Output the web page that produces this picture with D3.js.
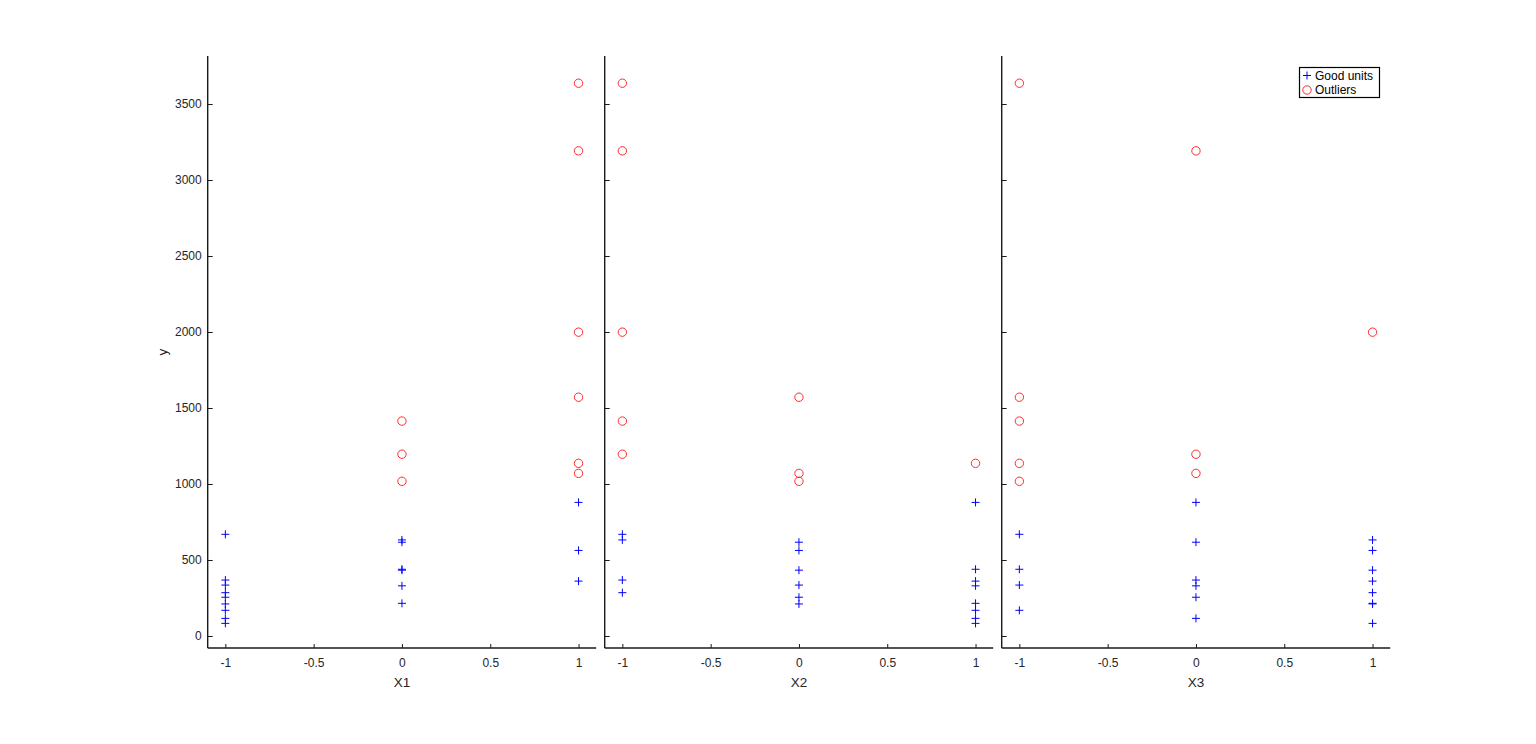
<!DOCTYPE html>
<html>
<head>
<meta charset="utf-8">
<script src="https://cdn.jsdelivr.net/npm/d3@7"></script>
<style>
  html, body { margin: 0; padding: 0; background: #fff; }
  svg { display: block; font-family: "Liberation Sans", Arial, Helvetica, sans-serif; }
</style>
</head>
<body>
<svg id="chart" width="1536" height="744"></svg>
<script>
// ---- data (3^3 factorial runs) ----
const X1 = [-1,-1,-1,-1,-1,-1,-1,-1,-1, 0,0,0,0,0,0,0,0,0, 1,1,1,1,1,1,1,1,1];
const X2 = [-1,-1,-1, 0,0,0, 1,1,1, -1,-1,-1, 0,0,0, 1,1,1, -1,-1,-1, 0,0,0, 1,1,1];
const X3 = [-1,0,1, -1,0,1, -1,0,1, -1,0,1, -1,0,1, -1,0,1, -1,0,1, -1,0,1, -1,0,1];
const Y  = [669,368,285, 335,255,211, 169,116,83,
            1414,1196,632, 1018,617,433, 439,330,215,
            3637,3192,1999, 1571,1070,563, 1136,879,361];
const isOutlier = [0,0,0,0,0,0,0,0,0, 1,1,0,1,0,0,0,0,0, 1,1,1,1,1,0,1,0,0];
const factorNames = ["X1","X2","X3"];
const xTicks = [-1,-0.5,0,0.5,1];
const yTicks = [0,500,1000,1500,2000,2500,3000,3500];
const legendLabels = ["Good units","Outliers"];

(function () {
const factors = [X1, X2, X3];
const svg = d3.select("#chart");

const panelLeft = 207.7, panelStep = 397, panelW = 388.5;
const yTop = 56, yBottom = 648;
const y = d3.scaleLinear().domain([-79, 3816]).range([yBottom, yTop]);

const axisColor = "#1a1a1a";
const textColor = "#262626";
const fmt = d => String(d);

factorNames.forEach((name, p) => {
  const x0 = panelLeft + p * panelStep;
  const x = d3.scaleLinear().domain([-1.1, 1.1]).range([x0, x0 + panelW]);
  const g = svg.append("g");

  // x axis
  const xa = g.append("g").attr("transform", `translate(0,${yBottom})`)
    .call(d3.axisBottom(x).tickValues(xTicks).tickSize(0).tickPadding(0).tickFormat(fmt));
  xa.select(".domain").remove();
  xa.selectAll(".tick line").remove();
  xa.selectAll(".tick").append("line")
    .attr("y1", 0).attr("y2", -4).attr("stroke", axisColor).attr("stroke-width", 1);
  xa.selectAll(".tick text").attr("y", 15).attr("dy", "0.32em")
    .attr("fill", textColor).attr("font-size", 12).attr("font-family", null);
  g.append("line").attr("x1", x0).attr("x2", x0 + panelW)
    .attr("y1", yBottom).attr("y2", yBottom)
    .attr("stroke", axisColor).attr("stroke-width", 1.4);

  // y axis
  const ya = g.append("g").attr("transform", `translate(${x0},0)`)
    .call(d3.axisLeft(y).tickValues(yTicks).tickSize(0).tickPadding(0).tickFormat(fmt));
  ya.select(".domain").remove();
  ya.selectAll(".tick line").remove();
  ya.selectAll(".tick").append("line")
    .attr("x1", 0).attr("x2", 5).attr("stroke", axisColor).attr("stroke-width", 1);
  if (p === 0) {
    ya.selectAll(".tick text").attr("x", -6).attr("fill", textColor)
      .attr("font-size", 12).attr("font-family", null);
  } else {
    ya.selectAll(".tick text").remove();
  }
  g.append("line").attr("x1", x0).attr("x2", x0)
    .attr("y1", yTop).attr("y2", yBottom)
    .attr("stroke", axisColor).attr("stroke-width", 1.4);

  // x label
  g.append("text").attr("x", x(0)).attr("y", 682).attr("dy", "0.35em")
    .attr("text-anchor", "middle").attr("font-size", 13.5).attr("fill", textColor)
    .text(name);

  // points
  const fx = factors[p];
  const pts = Y.map((v, i) => ({ xv: fx[i], yv: v, out: isOutlier[i] }));
  const s = 4;
  pts.filter(d => !d.out).forEach(d => {
    const cx = x(d.xv), cy = y(d.yv);
    g.append("path")
      .attr("d", `M${cx - s},${cy}H${cx + s}M${cx},${cy - s}V${cy + s}`)
      .attr("stroke", "#0000ff").attr("stroke-width", 1).attr("fill", "none");
  });
  g.selectAll("circle.out").data(pts.filter(d => d.out)).join("circle")
    .attr("class", "out")
    .attr("cx", d => x(d.xv)).attr("cy", d => y(d.yv)).attr("r", 4.2)
    .attr("fill", "none").attr("stroke", "#ff2b2b").attr("stroke-width", 1);
});

// y label
svg.append("text")
  .attr("transform", `translate(162,352) rotate(-90)`)
  .attr("text-anchor", "middle").attr("dy", "0.35em")
  .attr("font-size", 13.5).attr("fill", textColor).text("y");

// legend
const lg = svg.append("g");
lg.append("rect").attr("x", 1299.5).attr("y", 67.5).attr("width", 80).attr("height", 30)
  .attr("fill", "#fff").attr("stroke", "#000").attr("stroke-width", 1.2);
const lx = 1307, ly1 = 75.5, ly2 = 90;
lg.append("path").attr("d", `M${lx - 4},${ly1}H${lx + 4}M${lx},${ly1 - 4}V${ly1 + 4}`)
  .attr("stroke", "#0000ff").attr("stroke-width", 1);
lg.append("circle").attr("cx", lx).attr("cy", ly2).attr("r", 4.2)
  .attr("fill", "none").attr("stroke", "#ff2b2b").attr("stroke-width", 1);
lg.append("text").attr("x", 1315).attr("y", ly1).attr("dy", "0.35em")
  .attr("font-size", 12).attr("fill", "#000").text(legendLabels[0]);
lg.append("text").attr("x", 1315).attr("y", ly2).attr("dy", "0.35em")
  .attr("font-size", 12).attr("fill", "#000").text(legendLabels[1]);
})();
</script>
</body>
</html>
